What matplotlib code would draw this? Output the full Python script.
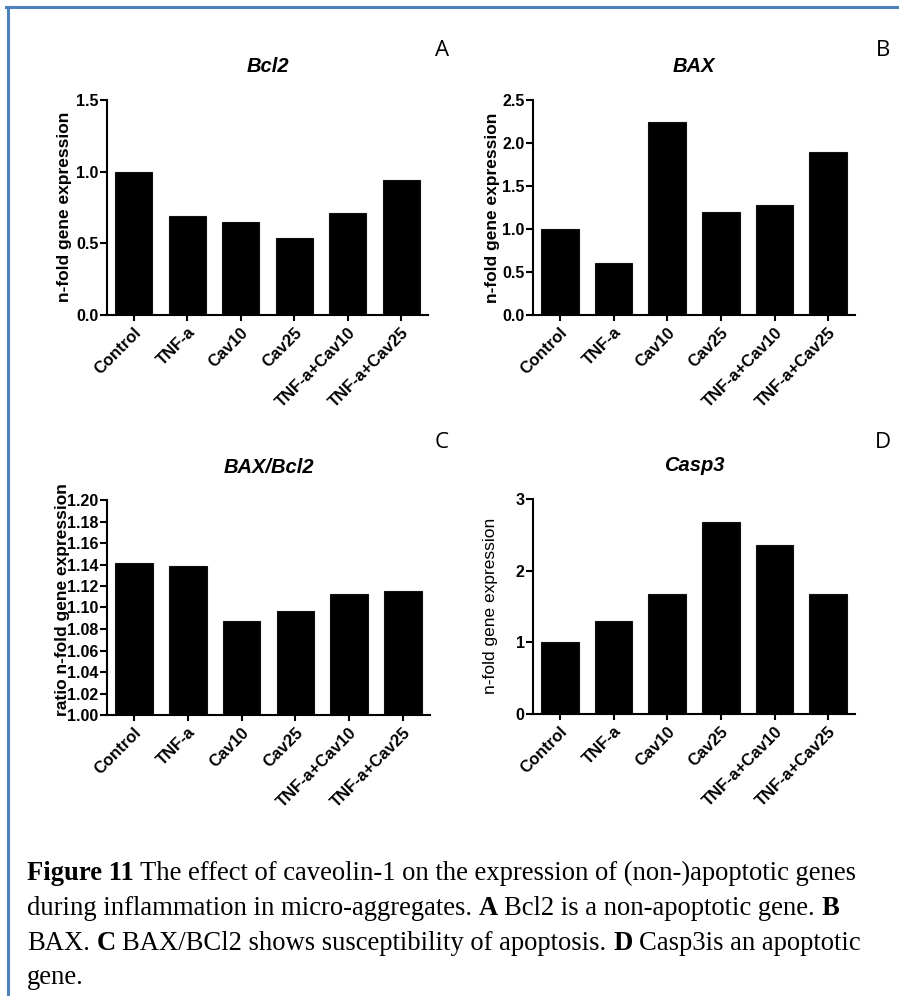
import matplotlib
matplotlib.use("Agg")
import matplotlib.pyplot as plt
from matplotlib.lines import Line2D
import numpy as np

# ---------------- data ----------------
categories = ["Control", "TNF-a", "Cav10", "Cav25", "TNF-a+Cav10", "TNF-a+Cav25"]
bcl2 = [1.00, 0.69, 0.65, 0.54, 0.71, 0.94]
bax = [1.00, 0.60, 2.24, 1.20, 1.28, 1.89]
bax_bcl2 = [1.141, 1.139, 1.087, 1.097, 1.113, 1.115]
casp3 = [1.00, 1.30, 1.68, 2.68, 2.36, 1.67]

titles = ["Bcl2", "BAX", "BAX/Bcl2", "Casp3"]
letters = ["A", "B", "C", "D"]
ylabels = ["n-fold gene expression", "n-fold gene expression",
           "ratio n-fold gene expression", "n-fold gene expression"]
yticks_list = [[0.0, 0.5, 1.0, 1.5],
               [0.0, 0.5, 1.0, 1.5, 2.0, 2.5],
               [1.00, 1.02, 1.04, 1.06, 1.08, 1.10, 1.12, 1.14, 1.16, 1.18, 1.20],
               [0, 1, 2, 3]]
ytick_fmt = ["{:.1f}", "{:.1f}", "{:.2f}", "{:.0f}"]

caption_lines = [
    [("Figure 11", True), ("The effect of caveolin-1 on the expression of (non-)apoptotic genes", False)],
    [("during inflammation in micro-aggregates.", False), ("A", True), ("Bcl2 is a non-apoptotic gene.", False), ("B", True)],
    [("BAX.", False), ("C", True), ("BAX/BCl2 shows susceptibility of apoptosis.", False), ("D", True), ("Casp3is an apoptotic", False)],
    [("gene.", False)],
]

# ---------------- layout ----------------
W, H = 899, 996
fig = plt.figure(figsize=(W / 100, H / 100), dpi=100)
fig.patch.set_facecolor("white")


def rect(l, t, r, b):
    return [l / W, 1 - b / H, (r - l) / W, (b - t) / H]


def fx(x):
    return x / W


def fy(y):
    return 1 - y / H


SANS = ["Liberation Sans", "DejaVu Sans"]
SERIF = ["Liberation Serif", "DejaVu Serif"]

panels = [
    dict(box=(107, 100, 428, 315), data=bcl2, ylim=(0, 1.5), title_y=67, letter=(442, 50),
         ylab=(65, 207), ylab_bold=True),
    dict(box=(533, 100, 855, 315), data=bax, ylim=(0, 2.5), title_y=67, letter=(883, 50),
         ylab=(492, 208), ylab_bold=True),
    dict(box=(107, 500, 430, 715), data=bax_bcl2, ylim=(1.0, 1.2), title_y=467, letter=(442, 442),
         ylab=(62, 600), ylab_bold=True),
    dict(box=(533, 499, 855, 714), data=casp3, ylim=(0, 3), title_y=465, letter=(883, 442),
         ylab=(490, 606), ylab_bold=False),
]

x = np.arange(len(categories))
for i, p in enumerate(panels):
    l, t, r, b = p["box"]
    ax = fig.add_axes(rect(l, t, r, b))
    ax.bar(x, p["data"], width=0.7, color="black", edgecolor="#111111", linewidth=0.8)
    ax.set_xlim(-0.5, len(categories) - 0.5)
    ax.set_ylim(*p["ylim"])
    ax.set_yticks(yticks_list[i])
    ax.set_yticklabels([ytick_fmt[i].format(v) for v in yticks_list[i]],
                       fontsize=11.5, fontweight="bold", family=SANS)
    ax.set_xticks(x)
    ax.set_xticklabels(categories, rotation=45, ha="right", va="top",
                       rotation_mode="anchor", fontsize=12, fontweight="bold", family=SANS)
    for s in ["top", "right"]:
        ax.spines[s].set_visible(False)
    for s in ["left", "bottom"]:
        ax.spines[s].set_linewidth(1.5)
    ax.tick_params(axis="y", length=5, width=1.5, pad=1)
    ax.tick_params(axis="x", length=4, width=1.5, pad=3)
    # title
    fig.text(fx((l + r) / 2), fy(p["title_y"]), titles[i], ha="center", va="center",
             fontsize=14.5, fontweight="bold", fontstyle="italic", family=SANS)
    # panel letter
    fig.text(fx(p["letter"][0]), fy(p["letter"][1]), letters[i], ha="center", va="center",
             fontsize=16, family=["Open Sans", "DejaVu Sans"])
    # y label
    fig.text(fx(p["ylab"][0]), fy(p["ylab"][1]), ylabels[i], ha="center", va="center",
             rotation=90, fontsize=12.5, fontweight="bold" if p["ylab_bold"] else "normal",
             family=SANS)

# ---------------- border ----------------
border_col = "#4F81BD"
fig.add_artist(Line2D([fx(7.5), fx(7.5)], [fy(7), fy(H + 5)], color=border_col, lw=2.2,
                      transform=fig.transFigure))
fig.add_artist(Line2D([fx(6), fx(W + 5)], [fy(7.5), fy(7.5)], color=border_col, lw=2.2,
                      transform=fig.transFigure))

# ---------------- caption ----------------
renderer = fig.canvas.get_renderer()
cap_size = 19.2
cap_x0 = 27
baselines = [880, 915, 950, 984]


def text_width(s, bold):
    t = fig.text(0, 0, s, fontsize=cap_size, fontweight="bold" if bold else "normal", family=SERIF)
    w = t.get_window_extent(renderer=renderer).width
    t.remove()
    return w


space_w = text_width("a a", False) - text_width("aa", False)

for line, by in zip(caption_lines, baselines):
    xpos = cap_x0
    for k, (seg, bold) in enumerate(line):
        if k > 0:
            xpos += space_w
        fig.text(fx(xpos), fy(by), seg, ha="left", va="baseline", fontsize=cap_size,
                 fontweight="bold" if bold else "normal", family=SERIF)
        xpos += text_width(seg, bold)

fig.savefig("out.png", dpi=100, facecolor="white")
